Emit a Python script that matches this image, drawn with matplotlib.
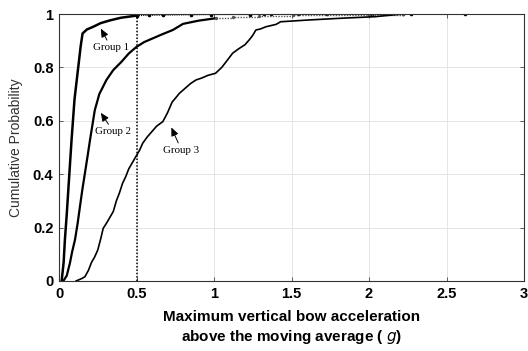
import matplotlib
matplotlib.use("Agg")
import matplotlib.pyplot as plt

# ---- data ----
group1_x = [0.017, 0.03, 0.038, 0.05, 0.06, 0.07, 0.081, 0.1, 0.124, 0.14, 0.152, 0.18, 0.22, 0.27, 0.328, 0.4, 0.5]
group1_y = [0.0, 0.07, 0.154, 0.25, 0.34, 0.43, 0.528, 0.68, 0.80, 0.88, 0.927, 0.942, 0.952, 0.966, 0.976, 0.986, 0.994]
group1_tail_x = [0.5, 0.58, 0.67, 0.85, 0.98, 1.23, 1.32, 1.37, 1.54, 1.73, 2.02, 2.22, 2.27, 2.62]
group1_tail_y = [0.994, 0.995, 0.996, 0.997, 0.998, 0.998, 0.999, 0.999, 0.999, 0.999, 1.0, 1.0, 1.0, 1.0]

group2_x = [0.028, 0.05, 0.07, 0.085, 0.103, 0.12, 0.135, 0.15, 0.167, 0.185, 0.2, 0.231, 0.26, 0.306, 0.35, 0.403, 0.45, 0.5,
            0.55, 0.606, 0.67, 0.734, 0.8, 0.9, 1.01]
group2_y = [0.0, 0.02, 0.066, 0.11, 0.154, 0.215, 0.278, 0.34, 0.403, 0.47, 0.528, 0.64, 0.70, 0.753, 0.79, 0.821, 0.852, 0.877,
            0.895, 0.909, 0.925, 0.94, 0.963, 0.975, 0.984]
group2_tail_x = [1.01, 1.12, 1.29, 1.51, 2.0, 2.22]
group2_tail_y = [0.984, 0.99, 0.993, 0.995, 0.997, 1.0]

group3_x = [0.11, 0.13, 0.15, 0.167, 0.19, 0.21, 0.23, 0.25, 0.27, 0.285, 0.31, 0.33, 0.35, 0.37, 0.39, 0.41, 0.43, 0.45,
            0.477, 0.5, 0.52, 0.54, 0.57, 0.6, 0.63, 0.67, 0.7, 0.73, 0.777, 0.82, 0.85, 0.884, 0.92, 0.96, 1.01, 1.05, 1.09,
            1.12, 1.16, 1.2, 1.227, 1.25, 1.27, 1.3, 1.334, 1.37, 1.40, 1.43, 1.623, 1.816, 2.04, 2.216]
group3_y = [0.0, 0.005, 0.01, 0.016, 0.04, 0.07, 0.09, 0.116, 0.16, 0.197, 0.22, 0.24, 0.26, 0.30, 0.33, 0.366, 0.39, 0.42,
            0.447, 0.47, 0.49, 0.516, 0.54, 0.56, 0.58, 0.597, 0.63, 0.67, 0.703, 0.725, 0.74, 0.753, 0.76, 0.77, 0.778, 0.80,
            0.83, 0.853, 0.87, 0.885, 0.903, 0.92, 0.94, 0.944, 0.952, 0.957, 0.961, 0.971, 0.978, 0.984, 0.99, 1.0]

labels = ["Group 1", "Group 2", "Group 3"]
label_xy = [(0.335, 0.875), (0.35, 0.56), (0.79, 0.49)]
arrow_tip = [(0.27, 0.945), (0.27, 0.63), (0.725, 0.575)]

x_ticks = [0, 0.5, 1, 1.5, 2, 2.5, 3]
x_ticklabels = ["0", "0.5", "1", "1.5", "2", "2.5", "3"]
y_ticks = [0, 0.2, 0.4, 0.6, 0.8, 1]
y_ticklabels = ["0", "0.2", "0.4", "0.6", "0.8", "1"]
threshold = 0.5

# ---- figure ----
fig = plt.figure(figsize=(5.28, 3.51), dpi=100)
ax = fig.add_axes([59 / 528, 70 / 351, 465 / 528, 267 / 351])

ax.grid(True, color="#e4e4e4", linewidth=0.7)
ax.set_axisbelow(True)

ax.plot(group1_x, group1_y, color="black", lw=1.8)
ax.plot(group1_tail_x, group1_tail_y, color="black", lw=0.8, ls=(0, (1, 1)), marker="o", ms=1.6)
ax.plot(group2_x, group2_y, color="black", lw=1.6)
ax.plot(group2_tail_x, group2_tail_y, color="#555555", lw=1.0, ls=(0, (1, 1)), marker="o", ms=1.4,
        drawstyle="steps-post")
ax.plot(group3_x, group3_y, color="black", lw=1.2)

ax.plot([threshold, threshold], [0, 1], color="black", lw=1.1, ls=(0, (1, 1.2)))

for lab, (tx, ty), (ax_, ay_) in zip(labels, label_xy, arrow_tip):
    ax.annotate(lab, xy=(ax_, ay_), xytext=(tx, ty), ha="center", va="center",
                fontsize=7.8, family="Liberation Serif",
                arrowprops=dict(arrowstyle="-|>,head_length=0.5,head_width=0.22", color="black", lw=0.7,
                                mutation_scale=10, shrinkA=0, shrinkB=0))

ax.set_xlim(0, 3)
ax.set_ylim(0, 1)
ax.set_xticks(x_ticks)
ax.set_xticklabels(x_ticklabels)
ax.set_yticks(y_ticks)
ax.set_yticklabels(y_ticklabels)
ax.tick_params(direction="in", top=True, right=True, length=3, width=0.6, labelsize=10.5, pad=4,
               color="#444444")
for t in ax.get_xticklabels() + ax.get_yticklabels():
    t.set_fontfamily("Liberation Sans")
    t.set_fontweight("bold")
for s in ax.spines.values():
    s.set_linewidth(0.8)
    s.set_color("#333333")

ax.set_xlabel("Maximum vertical bow acceleration\nabove the moving average ( $g$)",
              fontsize=11, family="Liberation Sans", fontweight="bold", labelpad=7, linespacing=1.3)
ax.set_ylabel("Cumulative Probability", fontsize=10, family="Liberation Sans", color="#333333",
              labelpad=7)

fig.savefig("out.png", dpi=100)
